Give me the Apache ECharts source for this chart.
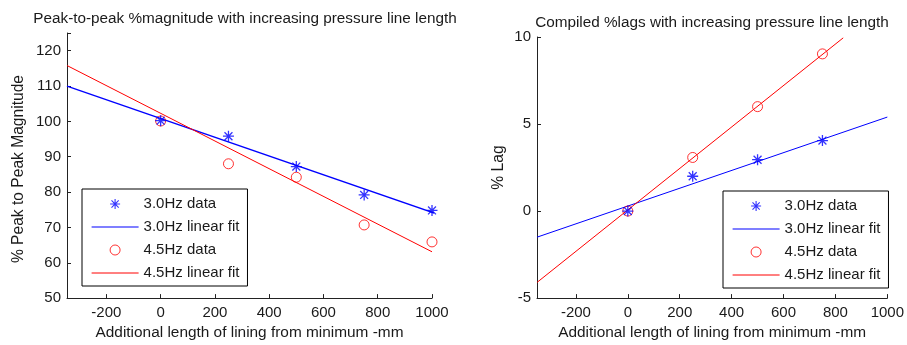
<!DOCTYPE html>
<html>
<head>
<meta charset="utf-8">
<script src="https://cdn.jsdelivr.net/npm/echarts@6/dist/echarts.min.js"></script>
<style>
html,body{margin:0;padding:0;background:#fff;}
#chart{width:907px;height:345px;}
</style>
</head>
<body>
<div id="chart"></div>
<script>
// ---- data ----
const xTickValues = [-200, 0, 200, 400, 600, 800, 1000];
const magYTicks = [50, 60, 70, 80, 90, 100, 110, 120];
const lagYTicks = [-5, 0, 5, 10];

// Left chart: peak-to-peak % magnitude
const magLength = [0, 250, 500, 750, 1000];
const mag30 = [100.2, 95.8, 87.2, 79.2, 74.8];
const mag45 = [100.1, 88.0, 84.2, 70.7, 65.9];
const magFit30X = [-345, 1025];
const magFit30Y = [110.0, 73.6];
const magFit45X = [-345, 1000];
const magFit45Y = [115.8, 63.1];

// Right chart: compiled % lags
const lagLength = [0, 250, 500, 750];
const lag30 = [0.0, 2.0, 2.95, 4.05];
const lag45 = [0.0, 3.08, 6.0, 9.03];
const lagFit30X = [-350, 1000];
const lagFit30Y = [-1.5, 5.4];
const lagFit45X = [-350, 830];
const lagFit45Y = [-4.1, 9.95];

const names = ['3.0Hz data', '3.0Hz linear fit', '4.5Hz data', '4.5Hz linear fit'];

function pairs(xs, ys) { return xs.map((x, i) => [x, ys[i]]); }

const FONT = 'Liberation Sans, Arial, Helvetica, sans-serif';
const TXT = '#1a1a1a';
const BLUE = '#0000ff';
const RED = '#ff0000';
const STAR = 'path://M0,-1L0,1M-1,0L1,0M-0.72,-0.72L0.72,0.72M-0.72,0.72L0.72,-0.72';

function xAxis(gridIndex, min, max) {
  return {
    type: 'value', gridIndex, min, max,
    name: 'Additional length of lining from minimum -mm',
    nameLocation: 'middle', nameGap: 26,
    nameTextStyle: { fontFamily: FONT, fontSize: 15.4, color: TXT },
    axisLine: { show: true, onZero: false, lineStyle: { color: '#222', width: 1 } },
    axisTick: { show: true, inside: true, length: 4, customValues: xTickValues, lineStyle: { color: '#222' } },
    axisLabel: { customValues: xTickValues, margin: 7, fontFamily: FONT, fontSize: 15, color: TXT,
      formatter: v => String(v) },
    splitLine: { show: false }
  };
}
function yAxis(gridIndex, min, max, ticks, extraTicks, name, gap, pad) {
  return {
    type: 'value', gridIndex, min, max,
    name, nameLocation: 'middle', nameGap: gap, nameRotate: 90,
    nameTextStyle: { fontFamily: FONT, fontSize: 15.6, color: TXT, padding: pad },
    axisLine: { show: true, onZero: false, lineStyle: { color: '#222', width: 1 } },
    axisTick: { show: true, inside: true, length: 4, customValues: ticks.concat(extraTicks), lineStyle: { color: '#222' } },
    axisLabel: { customValues: ticks, margin: 6, fontFamily: FONT, fontSize: 15, color: TXT,
      formatter: v => String(v) },
    splitLine: { show: false }
  };
}
function starSeries(name, xi, yi, data) {
  return {
    name, type: 'scatter', xAxisIndex: xi, yAxisIndex: yi, data,
    symbol: STAR, symbolSize: 11, symbolKeepAspect: true,
    itemStyle: { color: 'transparent', borderColor: BLUE, borderWidth: 1.3 },
    z: 5
  };
}
function circleSeries(name, xi, yi, data) {
  return {
    name, type: 'scatter', xAxisIndex: xi, yAxisIndex: yi, data,
    symbol: 'circle', symbolSize: 10,
    itemStyle: { color: 'transparent', borderColor: RED, borderWidth: 1 },
    z: 4
  };
}
function fitSeries(name, xi, yi, data, color, w) {
  return {
    name, type: 'line', xAxisIndex: xi, yAxisIndex: yi, data,
    symbol: 'none', clip: false, silent: true,
    lineStyle: { color, width: w }, itemStyle: { color },
    z: 3
  };
}
const hidden = { color: 'transparent', borderColor: 'transparent', borderWidth: 0 };
function legend(left, top) {
  return {
    left, top, orient: 'vertical',
    data: [
      { name: names[0], icon: STAR, itemStyle: { color: 'transparent', borderColor: BLUE, borderWidth: 1.1 } },
      { name: names[1], itemStyle: hidden, lineStyle: { color: BLUE, width: 1.2 } },
      { name: names[2], icon: 'circle', itemStyle: { color: 'transparent', borderColor: RED, borderWidth: 1 } },
      { name: names[3], itemStyle: hidden, lineStyle: { color: RED, width: 1 } }
    ],
    itemWidth: 47, itemHeight: 10, itemGap: 7,
    padding: [7, 8, 5, 9],
    borderColor: '#000', borderWidth: 1, backgroundColor: '#fff',
    selectedMode: false,
    textStyle: { fontFamily: FONT, fontSize: 15, color: TXT, lineHeight: 16 },
    z: 10
  };
}

const chart = echarts.init(document.getElementById('chart'), null, { renderer: 'canvas' });
chart.setOption({
  animation: false,
  backgroundColor: '#fff',
  title: [
    { text: 'Peak-to-peak %magnitude with increasing pressure line length', left: 240, top: 6, textAlign: 'center',
      textStyle: { fontFamily: FONT, fontSize: 15.3, fontWeight: 'normal', color: TXT } },
    { text: 'Compiled %lags with increasing pressure line length', left: 707, top: 10, textAlign: 'center',
      textStyle: { fontFamily: FONT, fontSize: 15.3, fontWeight: 'normal', color: TXT } }
  ],
  grid: [
    { left: 67, top: 33, width: 365, height: 267 },
    { left: 537, top: 37, width: 353, height: 264 }
  ],
  xAxis: [xAxis(0, -345, 1000), xAxis(1, -350, 1000)],
  yAxis: [
    yAxis(0, 50, 125, magYTicks, [125], '% Peak to Peak Magnitude', 40, [0, 7, 0, 0]),
    yAxis(1, -5, 10, lagYTicks, [], '% Lag', 30, [0, 0, 0, 0])
  ],
  legend: [legend(82, 189), legend(723, 191)],
  series: [
    starSeries(names[0], 0, 0, pairs(magLength, mag30)),
    fitSeries(names[1], 0, 0, pairs(magFit30X, magFit30Y), BLUE, 1.3),
    circleSeries(names[2], 0, 0, pairs(magLength, mag45)),
    fitSeries(names[3], 0, 0, pairs(magFit45X, magFit45Y), RED, 1),
    starSeries(names[0], 1, 1, pairs(lagLength, lag30)),
    fitSeries(names[1], 1, 1, pairs(lagFit30X, lagFit30Y), BLUE, 1),
    circleSeries(names[2], 1, 1, pairs(lagLength, lag45)),
    fitSeries(names[3], 1, 1, pairs(lagFit45X, lagFit45Y), RED, 1)
  ]
});
</script>
</body>
</html>
